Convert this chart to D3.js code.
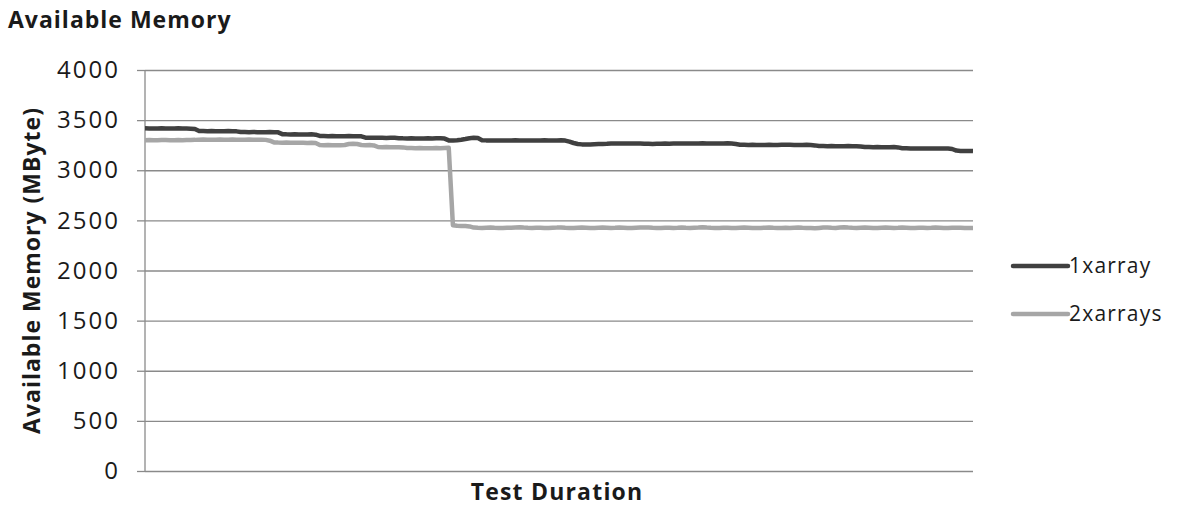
<!DOCTYPE html>
<html><head><meta charset="utf-8">
<script src="https://cdn.jsdelivr.net/npm/d3@7"></script>
<style>body{margin:0;background:#fff}</style></head>
<body>
<svg id="c" width="1179" height="506"></svg>
<script>
const chartTitle = "Available Memory";
const yAxisTitle = "Available Memory (MByte)";
const xAxisTitle = "Test Duration";
const yTicks = [0, 500, 1000, 1500, 2000, 2500, 3000, 3500, 4000];
const seriesNames = ["1xarray", "2xarrays"];

const oneXArray = [
3418,3417,3416,3417,3418,3417,3416,3417,3418,3417,3416,3415,3412,
3392,3391,3390,3391,3390,3389,3390,3391,3390,3388,
3382,3381,3380,3381,3380,3379,3380,3381,3380,3378,
3360,3358,3357,3358,3357,3356,3357,3358,3355,
3342,3341,3340,3341,3340,3339,3340,3341,3340,3339,3338,
3325,3324,3323,3324,3323,3322,3323,3324,3320,
3318,3317,3318,3317,3316,3317,3318,3317,3318,3319,3316,
3298,3297,3300,3305,3312,3320,
3325,3322,
3300,3298,3297,3298,3297,3296,3297,3298,3299,3297,3296,3297,3298,3297,3298,3299,3298,3297,3298,3299,3296,
3285,3272,3262,3258,3257,3258,
3260,3262,3263,3264,3266,3267,3266,3267,3268,3267,3266,3267,3265,3264,3263,3264,3265,3266,3265,
3266,3267,3268,3267,3266,3267,3268,3269,3268,3267,3268,3267,3268,3269,3266,3262,
3255,3254,3253,3254,3253,3252,3253,3254,3253,3252,3254,3255,3254,3253,3252,3253,3254,3252,3248,
3242,3241,3240,3241,3240,3239,3240,3241,3240,3239,3237,
3232,3231,3230,3231,3230,3229,3230,3231,3228,
3220,3219,3218,3217,3218,3217,3216,3217,3218,3217,3216,3217,3212,
3196,3193,3192,3193,3192
];

const twoXArrays = [
3300,3301,3299,3300,3302,3301,3300,3299,3301,3300,3301,3302,3303,
3305,3306,3305,3304,3305,3306,3305,3304,3306,3305,3304,3305,3306,3305,3304,3305,3303,3295,
3278,3276,3275,3276,3275,3274,3275,3274,3273,3274,3272,
3252,3250,3251,3250,3249,3250,3252,
3262,3264,3262,
3252,3250,3251,3248,
3232,3230,3231,3230,3229,3230,3228,
3222,3221,3220,3221,3220,3219,3220,3221,3220,3222,3224,
2452,2446,2445,2444,2440,
2428,2426,2425,2427,2428,2426,2425,2424,2426,2427,
2429,2431,2428,2426,2425,2427,2426,2424,2425,2427,
2428,2430,2427,2425,2424,2426,2428,2427,2425,2424,
2426,2428,2427,2425,2426,2429,2427,2425,2424,2426,
2428,2430,2428,2426,2425,2424,2426,2427,2425,2426,
2428,2426,2425,2427,2429,2432,2428,2426,2425,2424,
2426,2427,2425,2424,2426,2428,2427,2425,2424,2425,
2427,2428,2426,2425,2424,2426,2425,2427,2428,2426,
2425,2424,2422,2425,2428,2430,2427,2425,2429,2432,
2428,2426,2425,2427,2429,2427,2425,2424,2426,2428,
2427,2425,2426,2428,2427,2425,2424,2426,2427,2425,
2426,2428,2427,2425,2424,2426,2427,2426,2425,2424,
2425
];

const categories = oneXArray.map((d, i) => i + 1);
const colors = ["#404040", "#a6a6a6"];
const FONT = "'Open Sans', Lato, sans-serif";
const TXT = "#1a1a1a";

const svg = d3.select("#c");
const L = 145, R = 973, T = 70, B = 471;
const x = d3.scalePoint().domain(categories).range([L, R]).padding(0);
const y = d3.scaleLinear().domain([0, 4000]).range([B, T]);

// gridlines
svg.append("g").attr("transform", `translate(${L},0)`)
  .call(d3.axisLeft(y).tickValues(yTicks).tickSize(-(R - L)).tickFormat(""))
  .call(g => g.select(".domain").remove())
  .call(g => g.selectAll("line").attr("stroke", "#8a8a8a").attr("stroke-width", 1.3));

// y axis with tick marks and labels
svg.append("g").attr("transform", `translate(${L},0)`)
  .call(d3.axisLeft(y).tickValues(yTicks).tickSize(8).tickPadding(17).tickFormat(d3.format("d")))
  .call(g => g.select(".domain").attr("d", `M0,${T}V${B}`).attr("stroke", "#8a8a8a").attr("stroke-width", 1.3))
  .call(g => g.selectAll("line").attr("stroke", "#8a8a8a").attr("stroke-width", 1.3))
  .call(g => g.selectAll("text").attr("font-family", FONT).attr("font-size", 24)
    .attr("letter-spacing", 2).attr("fill", TXT));

const line = d3.line().x((d, i) => x(categories[i])).y(d => y(d));
[oneXArray, twoXArrays].forEach((s, k) => {
  svg.append("path").datum(s).attr("d", line).attr("fill", "none")
    .attr("stroke", colors[k]).attr("stroke-width", 4.5).attr("stroke-linejoin", "round");
});

// legend
const legY = [266, 314];
seriesNames.forEach((n, k) => {
  svg.append("line").attr("x1", 1013).attr("x2", 1068).attr("y1", legY[k]).attr("y2", legY[k])
    .attr("stroke", colors[k]).attr("stroke-width", 4.5).attr("stroke-linecap", "round");
  svg.append("text").attr("x", 1069).attr("y", legY[k]).attr("dy", "0.35em")
    .attr("font-family", FONT).attr("font-size", 21).attr("letter-spacing", 1.2).attr("fill", TXT).text(n);
});

// titles
svg.append("text").attr("x", 8).attr("y", 28).attr("font-family", FONT).attr("font-weight", "bold")
  .attr("font-size", 23).attr("letter-spacing", 1).attr("fill", TXT).text(chartTitle);
svg.append("text").attr("x", 557).attr("y", 500).attr("text-anchor", "middle")
  .attr("font-family", FONT).attr("font-weight", "bold").attr("font-size", 23).attr("letter-spacing", 1.2)
  .attr("fill", TXT).text(xAxisTitle);
svg.append("text").attr("transform", `translate(40,${(T + B) / 2}) rotate(-90)`).attr("text-anchor", "middle")
  .attr("font-family", FONT).attr("font-weight", "bold").attr("font-size", 23).attr("letter-spacing", 1)
  .attr("fill", TXT).text(yAxisTitle);
</script>
</body></html>
